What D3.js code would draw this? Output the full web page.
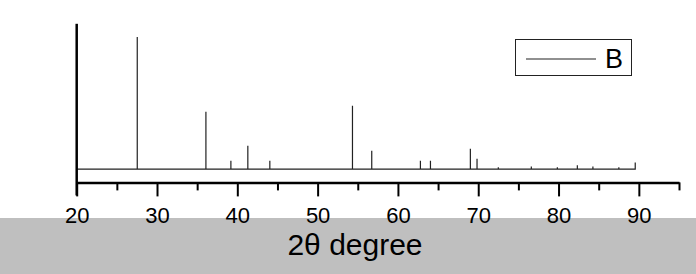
<!DOCTYPE html>
<html>
<head>
<meta charset="utf-8">
<script src="https://cdn.jsdelivr.net/npm/d3@7"></script>
<style>
  body { margin: 0; background: #fff; }
  svg { display: block; font-family: Arial, "Liberation Sans", sans-serif; }
</style>
</head>
<body>
<svg id="chart"></svg>
<script>
const width = 696;
const height = 274;

// stick pattern, 2theta positions and relative intensities
const peakPositions = [27.54, 36.09, 39.2, 41.31, 44.05, 54.34, 56.74, 62.8, 64.05, 69.02, 69.85, 72.5, 76.61, 79.85, 82.34, 84.28, 87.51, 89.55];
const peakIntensities = [100, 43.4, 6.3, 17.7, 6.3, 48, 13.9, 6.3, 6.3, 15.4, 7.8, 1.5, 2, 1.5, 3, 2, 1.5, 5];
const majorTicks = [20, 30, 40, 50, 60, 70, 80, 90];
const minorTicks = [25, 35, 45, 55, 65, 75, 85, 95];
const seriesName = "B";
const xTitle = "2θ degree";

const svg = d3.select("#chart")
    .attr("width", width)
    .attr("height", height);

// grey band from the source screenshot
svg.append("rect")
    .attr("x", 0).attr("y", 218)
    .attr("width", width).attr("height", height - 218)
    .attr("fill", "#bfbfbf");

const x = d3.scaleLinear().domain([20, 95]).range([76.7, 679]);
const y = d3.scaleLinear().domain([-10, 110]).range([182.4, 23.8]);

// series as a single line: baseline with vertical sticks
const pts = [[20, 0]];
peakPositions.forEach((p, i) => {
    pts.push([p, 0], [p, peakIntensities[i]], [p, 0]);
});

const line = d3.line().x(d => x(d[0])).y(d => y(d[1]));

svg.append("path")
    .datum(pts)
    .attr("d", line)
    .attr("fill", "none")
    .attr("stroke", "#222")
    .attr("stroke-width", 1.2);

// x axis, major + minor ticks
const axisY = y(-10);

const minor = svg.append("g")
    .attr("transform", `translate(0,${axisY})`)
    .call(d3.axisBottom(x).tickValues(minorTicks).tickSize(8).tickSizeOuter(0).tickFormat(""));
minor.select(".domain").remove();
minor.selectAll("line").attr("stroke", "#000").attr("stroke-width", 2);

const major = svg.append("g")
    .attr("transform", `translate(0,${axisY})`)
    .call(d3.axisBottom(x).tickValues(majorTicks).tickSize(14).tickSizeOuter(0));
major.select(".domain").attr("stroke", "#000").attr("stroke-width", 2.5);
major.selectAll("line").attr("stroke", "#000").attr("stroke-width", 2);
major.selectAll("text")
    .attr("y", 40.5)
    .attr("dy", 0)
    .attr("fill", "#000")
    .style("font-family", "Arial, 'Liberation Sans', sans-serif")
    .style("font-size", "22px");

// y axis line only
svg.append("line")
    .attr("x1", x(20)).attr("x2", x(20))
    .attr("y1", y(110)).attr("y2", axisY + 13)
    .attr("stroke", "#000")
    .attr("stroke-width", 2.5);

// axis title
svg.append("text")
    .attr("x", 355)
    .attr("y", 255)
    .attr("text-anchor", "middle")
    .style("font-size", "30px")
    .attr("fill", "#000")
    .text(xTitle);

// legend
const legend = svg.append("g");
legend.append("rect")
    .attr("x", 515.5).attr("y", 39.5)
    .attr("width", 116).attr("height", 36)
    .attr("fill", "#fff")
    .attr("stroke", "#222")
    .attr("stroke-width", 1);
legend.append("line")
    .attr("x1", 526).attr("x2", 596)
    .attr("y1", 59).attr("y2", 59)
    .attr("stroke", "#222")
    .attr("stroke-width", 1.2);
legend.append("text")
    .attr("x", 605)
    .attr("y", 67.7)
    .style("font-size", "27px")
    .attr("fill", "#000")
    .text(seriesName);
</script>
</body>
</html>
